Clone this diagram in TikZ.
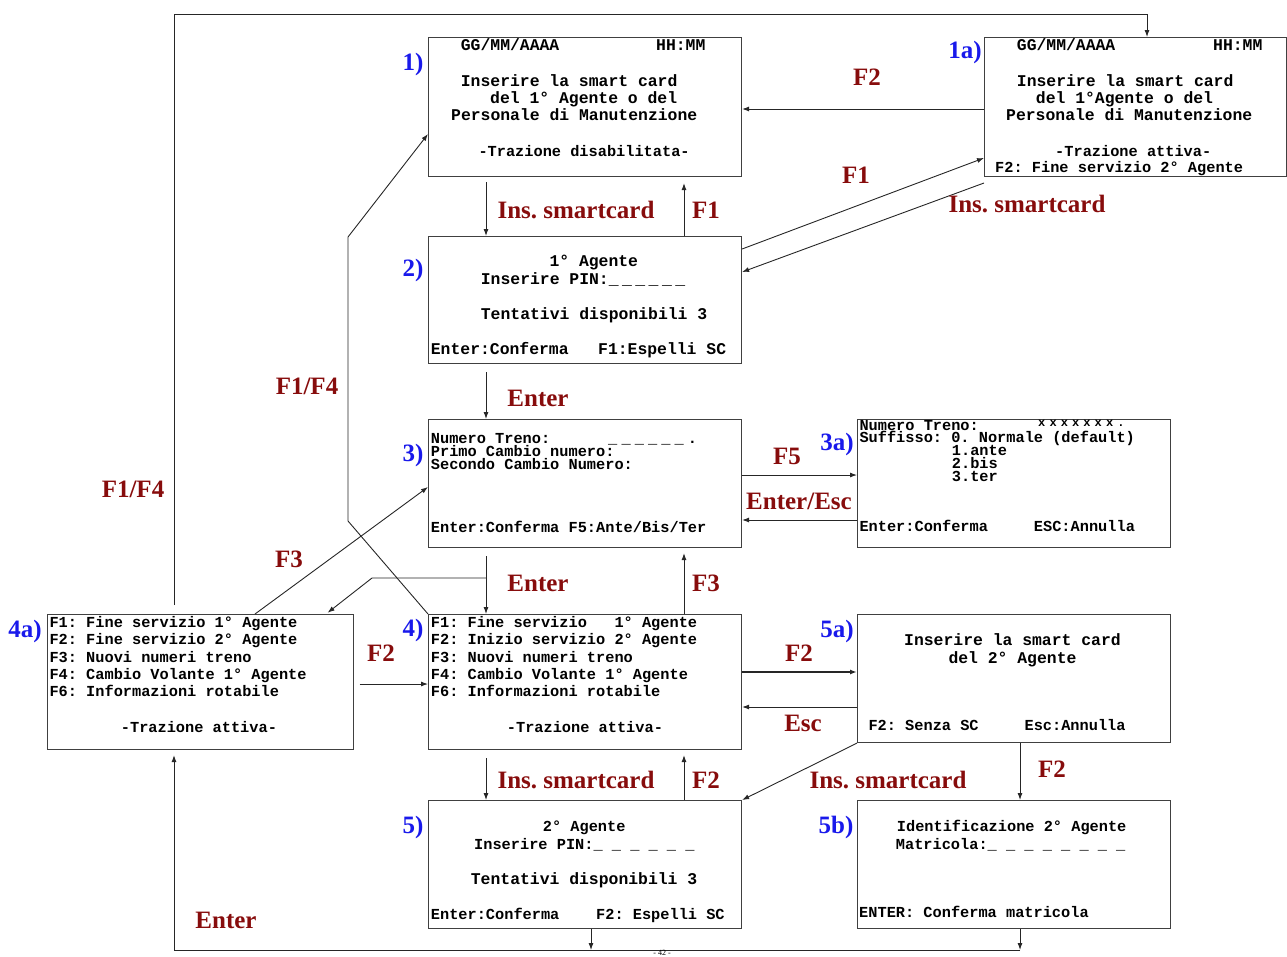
\documentclass[tikz,border=0pt]{standalone}
\usepackage{fontspec}
\setmainfont{Liberation Serif}
\newfontfamily\monof{Liberation Mono}
\usetikzlibrary{arrows.meta}
\definecolor{lblred}{RGB}{135,12,12}
\definecolor{lblblue}{RGB}{25,25,235}
\newcommand\ud{\makebox[13.3pt][l]{\_}}
\newcommand\xx{\makebox[11.3pt][l]{x}}
\begin{document}
\frenchspacing
\begin{tikzpicture}[x=1pt,y=-1pt,
  box/.style={draw=black!75, line width=1.1pt, anchor=north west, inner sep=0pt, fill=white},
  lt/.style={font=\monof\bfseries\frenchspacing\fontsize{16.4}{17}\selectfont, anchor=base west, inner sep=0pt},
  st/.style={font=\monof\bfseries\frenchspacing\fontsize{15.3}{16}\selectfont, anchor=base west, inner sep=0pt},
  tight/.style={st, text height=8pt, text depth=1.5pt},
  lab/.style={font=\bfseries\fontsize{25}{25}\selectfont, text=lblred, anchor=base, inner sep=0pt},
  num/.style={font=\bfseries\fontsize{25}{25}\selectfont, text=lblblue, anchor=base, inner sep=0pt},
  arr/.style={draw=black!85, line width=0.9pt, -{Latex[length=7pt,width=5pt]}}
]
\useasboundingbox (0,0) rectangle (1287,956);

% boxes
\node[box, minimum width=313pt, minimum height=139pt] (b1) at (428,37) {};
\node[box, minimum width=302pt, minimum height=139pt] (b1a) at (984,37) {};
\node[box, minimum width=313pt, minimum height=127pt] (b2) at (428,236) {};
\node[box, minimum width=313pt, minimum height=128pt] (b3) at (428,419) {};
\node[box, minimum width=313pt, minimum height=128pt] (b3a) at (857,419) {};
\node[box, minimum width=306pt, minimum height=135pt] (b4a) at (46.5,614) {};
\node[box, minimum width=313pt, minimum height=135pt] (b4) at (428,614) {};
\node[box, minimum width=313pt, minimum height=128pt] (b5a) at (857,614) {};
\node[box, minimum width=313pt, minimum height=128pt] (b5) at (428,800) {};
\node[box, minimum width=313pt, minimum height=128pt] (b5b) at (857,800) {};

% box 1
\node[lt] (b1l1) at (460.7,50.7) {GG/MM/AAAA};
\node[lt] (b1l1r) at (656,50.7) {HH:MM};
\node[lt] (b1l2) at (460.7,86) {Inserire la smart card};
\node[lt] (b1l3) at (490,103.3) {del 1° Agente o del};
\node[lt] (b1l4) at (451,120.7) {Personale di Manutenzione};
\node[st] (b1l5) at (478.3,156) {-Trazione disabilitata-};

% box 1a
\node[lt] (b1al1) at (1016.7,50.7) {GG/MM/AAAA};
\node[lt] (b1al1r) at (1213,50.7) {HH:MM};
\node[lt] (b1al2) at (1016.7,86) {Inserire la smart card};
\node[lt] (b1al3) at (1035.7,103.3) {del 1°Agente o del};
\node[lt] (b1al4) at (1006,120.7) {Personale di Manutenzione};
\node[st] (b1al5) at (1055,156) {-Trazione attiva-};
\node[st] (b1al6) at (995,172.7) {F2: Fine servizio 2° Agente};

% box 2
\node[lt] (b2l1) at (549.3,266.7) {1° Agente};
\node[lt] (b2l2) at (480.7,284.3) {Inserire PIN:\ud\ud\ud\ud\ud\ud};
\node[lt] (b2l3) at (480.7,319) {Tentativi disponibili 3};
\node[lt] (b2l4) at (430.7,354) {Enter:Conferma\hspace*{1.8em}F1:Espelli SC};

% box 3
\node[tight] (b3l1) at (430.7,443.3) {Numero Treno:};
\node[tight] (b3u) at (608,443.3) {\ud\ud\ud\ud\ud\ud.};
\node[tight] (b3l2) at (430.7,456.2) {Primo Cambio numero:};
\node[tight] (b3l3) at (430.7,469.1) {Secondo Cambio Numero:};
\node[st] (b3l4) at (430.7,532.7) {Enter:Conferma F5:Ante/Bis/Ter};

% box 3a
\node[tight] (b3al1) at (859.3,430) {Numero Treno:};
\node[tight, font=\monof\bfseries\fontsize{12}{12}\selectfont] (b3ax) at (1038,426.5) {\xx\xx\xx\xx\xx\xx\xx.};
\node[tight] (b3al2) at (859.3,442.9) {Suffisso: 0. Normale (default)};
\node[tight] (b3al3) at (951.7,455.8) {1.ante};
\node[tight] (b3al4) at (951.7,468.7) {2.bis};
\node[tight] (b3al5) at (951.7,481.6) {3.ter};
\node[st] (b3al6) at (859.3,531.7) {Enter:Conferma\hspace*{3em}ESC:Annulla};

% box 4a
\node[st] (b4al1) at (49.3,627.3) {F1: Fine servizio 1° Agente};
\node[st] (b4al2) at (49.3,644.5) {F2: Fine servizio 2° Agente};
\node[st] (b4al3) at (49.3,662) {F3: Nuovi numeri treno};
\node[st] (b4al4) at (49.3,679.3) {F4: Cambio Volante 1° Agente};
\node[st] (b4al5) at (49.3,696.7) {F6: Informazioni rotabile};
\node[st] (b4al6) at (120.7,732.7) {-Trazione attiva-};

% box 4
\node[st] (b4l1) at (430.7,627.3) {F1: Fine servizio\hspace*{1.8em}1° Agente};
\node[st] (b4l2) at (430.7,644.5) {F2: Inizio servizio 2° Agente};
\node[st] (b4l3) at (430.7,662) {F3: Nuovi numeri treno};
\node[st] (b4l4) at (430.7,679.3) {F4: Cambio Volante 1° Agente};
\node[st] (b4l5) at (430.7,696.7) {F6: Informazioni rotabile};
\node[st] (b4l6) at (506.7,732.7) {-Trazione attiva-};

% box 5a
\node[lt] (b5al1) at (904,645) {Inserire la smart card};
\node[lt] (b5al2) at (948.3,663.3) {del 2° Agente};
\node[st] (b5al3) at (868.3,730) {F2: Senza SC\hspace*{3em}Esc:Annulla};

% box 5
\node[st] (b5l1) at (542.7,831) {2° Agente};
\node[st] (b5l2) at (474,849) {Inserire PIN:\_ \_ \_ \_ \_ \_};
\node[lt] (b5l3) at (470.7,884) {Tentativi disponibili 3};
\node[st] (b5l4) at (430.7,919.3) {Enter:Conferma\hspace*{2.4em}F2: Espelli SC};

% box 5b
\node[st] (b5bl1) at (896.7,831) {Identificazione 2° Agente};
\node[st] (b5bl2) at (895.7,849.3) {Matricola:\_ \_ \_ \_ \_ \_ \_ \_};
\node[st] (b5bl3) at (859,917.7) {ENTER: Conferma matricola};

% helper coordinates
\coordinate (xA) at (486,0);
\coordinate (xB) at (684,0);
\coordinate (xC) at (1020,0);
\coordinate (tl) at (174,14);
\coordinate (tr) at (1147,14);
\coordinate (bl) at (174,950);
\coordinate (bm) at (591,950);
\coordinate (br) at (1020,950);
\coordinate (j1) at (486,578);
\coordinate (j2) at (372,578);
\coordinate (k1) at (348,521);
\coordinate (k2) at (348,237);

% connectors
\draw[arr, shorten <=5pt] (b1.south -| xA) -- (b2.north -| xA);
\draw[arr, shorten >=6pt] (b2.north -| xB) -- (b1.south -| xB);
\draw[arr] (b1a.west |- 0,109) -- (b1.east |- 0,109);
\draw[arr] (b2.east |- 0,249) -- (b1a.west |- 0,158);
\draw[arr] (b1a.west |- 0,183) -- (b2.east |- 0,272);
\draw[arr, shorten <=8pt] (b2.south -| xA) -- (b3.north -| xA);
\draw[arr] (b3.east |- 0,475) -- (b3a.west |- 0,475);
\draw[arr] (b3a.west |- 0,520) -- (b3.east |- 0,520);
\draw[arr, shorten <=8pt] (b3.south -| xA) -- (b4.north -| xA);
\draw[arr, shorten >=2pt] (j1) -- (j2) -- (b4a.north -| 326,0);
\draw[arr, shorten >=5pt] (b4.north -| xB) -- (b3.south -| xB);
\draw[arr] (b4a.north -| 255,0) -- (b3.west |- 0,487);
\draw[arr] (b4.north west) -- (k1) -- (k2) -- (b1.west |- 0,134);
\draw[arr, shorten <=6pt] (b4a.east |- 0,684) -- (b4.west |- 0,684);
\draw[arr, line width=1.6pt] (b4.east |- 0,672) -- (b5a.west |- 0,672);
\draw[arr] (b5a.west |- 0,707) -- (b4.east |- 0,707);
\draw[arr, shorten <=8pt] (b4.south -| xA) -- (b5.north -| xA);
\draw[arr, shorten >=5pt] (b5.north -| xB) -- (b4.south -| xB);
\draw[arr] (b5a.south west) -- (b5.north east);
\draw[arr] (b5a.south -| xC) -- (b5b.north -| xC);
\draw[arr, shorten <=9pt] (b4a.north -| tl) -- (tl) -- (tr) -- (b1a.north -| tr);
\draw[arr] (b5.south -| bm) -- (bm);
\draw[arr] (b5b.south -| br) -- (br);
\draw[arr, shorten >=5pt] (br) -- (bl) -- (b4a.south -| bl);

% red labels
\node[lab] (t1) at (576,218) {Ins. smartcard};
\node[lab] (t2) at (706,218) {F1};
\node[lab] (t3) at (867,85) {F2};
\node[lab] (t4) at (856,183) {F1};
\node[lab] (t5) at (1027,212) {Ins. smartcard};
\node[lab] (t6) at (307,394) {F1/F4};
\node[lab] (t7) at (538,406) {Enter};
\node[lab] (t8) at (787,464) {F5};
\node[lab] (t9) at (799,509) {Enter/Esc};
\node[lab] (t10) at (133,497) {F1/F4};
\node[lab] (t11) at (289,567) {F3};
\node[lab] (t12) at (538,591) {Enter};
\node[lab] (t13) at (706,591) {F3};
\node[lab] (t14) at (381,661) {F2};
\node[lab] (t15) at (799,661) {F2};
\node[lab] (t16) at (803,731) {Esc};
\node[lab] (t17) at (576,788) {Ins. smartcard};
\node[lab] (t18) at (706,788) {F2};
\node[lab] (t19) at (888,788) {Ins. smartcard};
\node[lab] (t20) at (1052,777) {F2};
\node[lab] (t21) at (226,928) {Enter};

% blue numbers
\node[num] (n1) at (413,70) {1)};
\node[num] (n1a) at (965,58.5) {1a)};
\node[num] (n2) at (413,276) {2)};
\node[num] (n3) at (413,461) {3)};
\node[num] (n3a) at (837,450) {3a)};
\node[num] (n4a) at (25,637) {4a)};
\node[num] (n4) at (413,636) {4)};
\node[num] (n5a) at (837,637) {5a)};
\node[num] (n5) at (413,833.5) {5)};
\node[num] (n5b) at (836,833.5) {5b)};

% page number
\node[font=\fontsize{8}{8}\selectfont, anchor=base, inner sep=0pt] (pg) at (662,955.5) {- 42 -};
\end{tikzpicture}
\end{document}
